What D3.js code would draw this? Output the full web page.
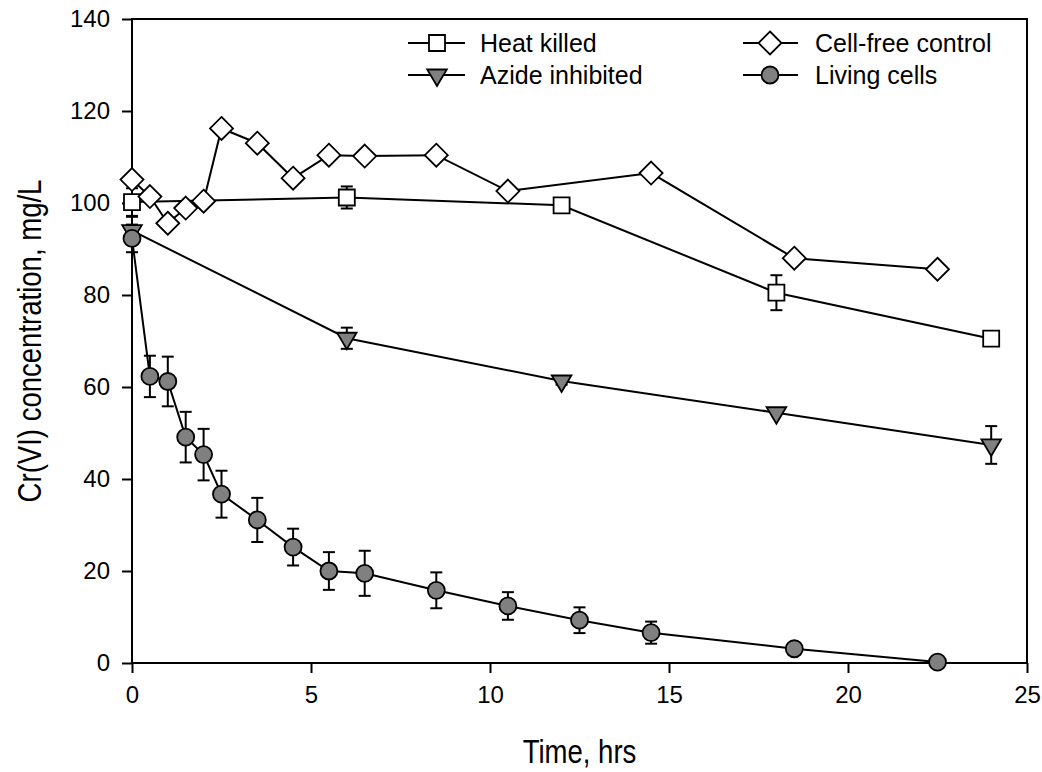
<!DOCTYPE html>
<html>
<head>
<meta charset="utf-8">
<script src="https://cdn.jsdelivr.net/npm/d3@7"></script>
<style>
  html, body { margin: 0; padding: 0; background: #fff; }
  svg text { font-family: "Liberation Sans", Arial, sans-serif; fill: #000; }
</style>
</head>
<body>
<svg id="chart" width="1042" height="772"></svg>
<script>
// ---- data ----
const heatT = [0, 6, 12, 18, 24];
const heatV = [100.2, 101.2, 99.5, 80.5, 70.5];
const heatE = [3.0, 2.4, 0, 3.8, 0];

const cellFreeT = [0, 0.5, 1, 1.5, 2, 2.5, 3.5, 4.5, 5.5, 6.5, 8.5, 10.5, 14.5, 18.5, 22.5];
const cellFreeV = [105.1, 101.4, 95.6, 98.9, 100.4, 116.2, 113.0, 105.4, 110.4, 110.2, 110.4, 102.6, 106.5, 88.0, 85.6];

const azideT = [0, 6, 12, 18, 24];
const azideV = [94.0, 70.6, 61.3, 54.4, 47.4];
const azideE = [3.0, 2.3, 0.8, 0, 4.1];

const livingT = [0, 0.5, 1, 1.5, 2, 2.5, 3.5, 4.5, 5.5, 6.5, 8.5, 10.5, 12.5, 14.5, 18.5, 22.5];
const livingV = [92.3, 62.3, 61.2, 49.1, 45.3, 36.7, 31.1, 25.2, 20.0, 19.5, 15.8, 12.4, 9.3, 6.6, 3.1, 0.2];
const livingE = [3.0, 4.5, 5.4, 5.5, 5.6, 5.1, 4.8, 4.0, 4.1, 4.9, 3.9, 3.0, 2.8, 2.4, 0, 0];

const xTicks = [0, 5, 10, 15, 20, 25];
const yTicks = [0, 20, 40, 60, 80, 100, 120, 140];
const legendLabels = ["Heat killed", "Cell-free control", "Azide inhibited", "Living cells"];
const xTitle = "Time, hrs";
const yTitle = "Cr(VI) concentration, mg/L";

// ---- layout ----
const svg = d3.select("#chart");
const L = 132, R = 1027, T = 19, B = 663;
const x = d3.scaleLinear().domain([0, 25]).range([L, R]);
const y = d3.scaleLinear().domain([0, 140]).range([B, T]);

const GRAY = "#808080";

function mk(T, V, E) { return T.map((t, i) => ({ t, v: V[i], e: E ? E[i] : 0 })); }
const series = [
  { name: legendLabels[0], data: mk(heatT, heatV, heatE), shape: "square", fill: "#fff" },
  { name: legendLabels[1], data: mk(cellFreeT, cellFreeV, null), shape: "diamond", fill: "#fff" },
  { name: legendLabels[2], data: mk(azideT, azideV, azideE), shape: "triangle", fill: GRAY },
  { name: legendLabels[3], data: mk(livingT, livingV, livingE), shape: "circle", fill: GRAY }
];

function shapePath(shape) {
  if (shape === "square") { const s = 8; return `M${-s},${-s}H${s}V${s}H${-s}Z`; }
  if (shape === "diamond") { const s = 11.5; return `M0,${-s}L${s},0L0,${s}L${-s},0Z`; }
  if (shape === "triangle") { const w = 9.8, h = 16.5; return `M${-w},${-h/3}L${w},${-h/3}L0,${2*h/3}Z`; }
  if (shape === "circle") { const r = 8.5; return `M${r},0A${r},${r} 0 1,1 ${-r},0A${r},${r} 0 1,1 ${r},0Z`; }
}

// axes
const xAxis = d3.axisBottom(x).tickValues(xTicks).tickSize(10).tickPadding(13).tickFormat(d3.format("d"));
const yAxis = d3.axisLeft(y).tickValues(yTicks).tickSize(10).tickPadding(12).tickFormat(d3.format("d"));

const gx = svg.append("g").attr("transform", `translate(0,${B})`).call(xAxis);
const gy = svg.append("g").attr("transform", `translate(${L},0)`).call(yAxis);
[gx, gy].forEach(g => {
  g.select(".domain").remove();
  g.selectAll(".tick line").attr("stroke", "#000").attr("stroke-width", 2);
  g.selectAll(".tick text").attr("font-size", 24).attr("font-family", "Liberation Sans, Arial, sans-serif").attr("fill", "#000");
});

// frame
svg.append("rect").attr("x", L).attr("y", T).attr("width", R - L).attr("height", B - T)
  .attr("fill", "none").attr("stroke", "#000").attr("stroke-width", 2);

// axis titles (narrow style)
svg.append("text")
  .attr("transform", `translate(${(L + R) / 2},763) scale(0.81,1)`)
  .attr("text-anchor", "middle").attr("font-size", 34).text(xTitle);
svg.append("text")
  .attr("transform", `translate(41,${(T + B) / 2}) rotate(-90) scale(0.81,1)`)
  .attr("text-anchor", "middle").attr("font-size", 34).text(yTitle);

// error bars
const eg = svg.append("g");
series.forEach(s => {
  s.data.filter(d => d.e > 0).forEach(d => {
    const cx = x(d.t), y1 = y(d.v + d.e), y2 = y(d.v - d.e), cw = 6;
    eg.append("line").attr("x1", cx).attr("x2", cx).attr("y1", y1).attr("y2", y2).attr("stroke", "#000").attr("stroke-width", 2);
    eg.append("line").attr("x1", cx - cw).attr("x2", cx + cw).attr("y1", y1).attr("y2", y1).attr("stroke", "#000").attr("stroke-width", 2);
    eg.append("line").attr("x1", cx - cw).attr("x2", cx + cw).attr("y1", y2).attr("y2", y2).attr("stroke", "#000").attr("stroke-width", 2);
  });
});

// lines
const line = d3.line().x(d => x(d.t)).y(d => y(d.v));
series.forEach(s => {
  svg.append("path").datum(s.data).attr("d", line).attr("fill", "none").attr("stroke", "#000").attr("stroke-width", 2);
});

// markers
series.forEach(s => {
  svg.append("g").selectAll("path").data(s.data).join("path")
    .attr("transform", d => `translate(${x(d.t)},${y(d.v)})`)
    .attr("d", shapePath(s.shape))
    .attr("fill", s.fill).attr("stroke", "#000").attr("stroke-width", 1.8);
});

// legend
const legendPos = [
  { lx1: 408, lx2: 465, mx: 437, tx: 480, y: 43 },
  { lx1: 743, lx2: 798, mx: 770, tx: 815, y: 43 },
  { lx1: 408, lx2: 465, mx: 437, tx: 480, y: 75 },
  { lx1: 743, lx2: 798, mx: 770, tx: 815, y: 75 }
];
series.forEach((s, i) => {
  const p = legendPos[i];
  const g = svg.append("g");
  g.append("line").attr("x1", p.lx1).attr("x2", p.lx2).attr("y1", p.y).attr("y2", p.y).attr("stroke", "#000").attr("stroke-width", 2);
  g.append("path").attr("transform", `translate(${p.mx},${p.y})`).attr("d", shapePath(s.shape))
    .attr("fill", s.fill).attr("stroke", "#000").attr("stroke-width", 1.8);
  g.append("text").attr("x", p.tx).attr("y", p.y + 9).attr("font-size", 25).text(s.name);
});
</script>
</body>
</html>
